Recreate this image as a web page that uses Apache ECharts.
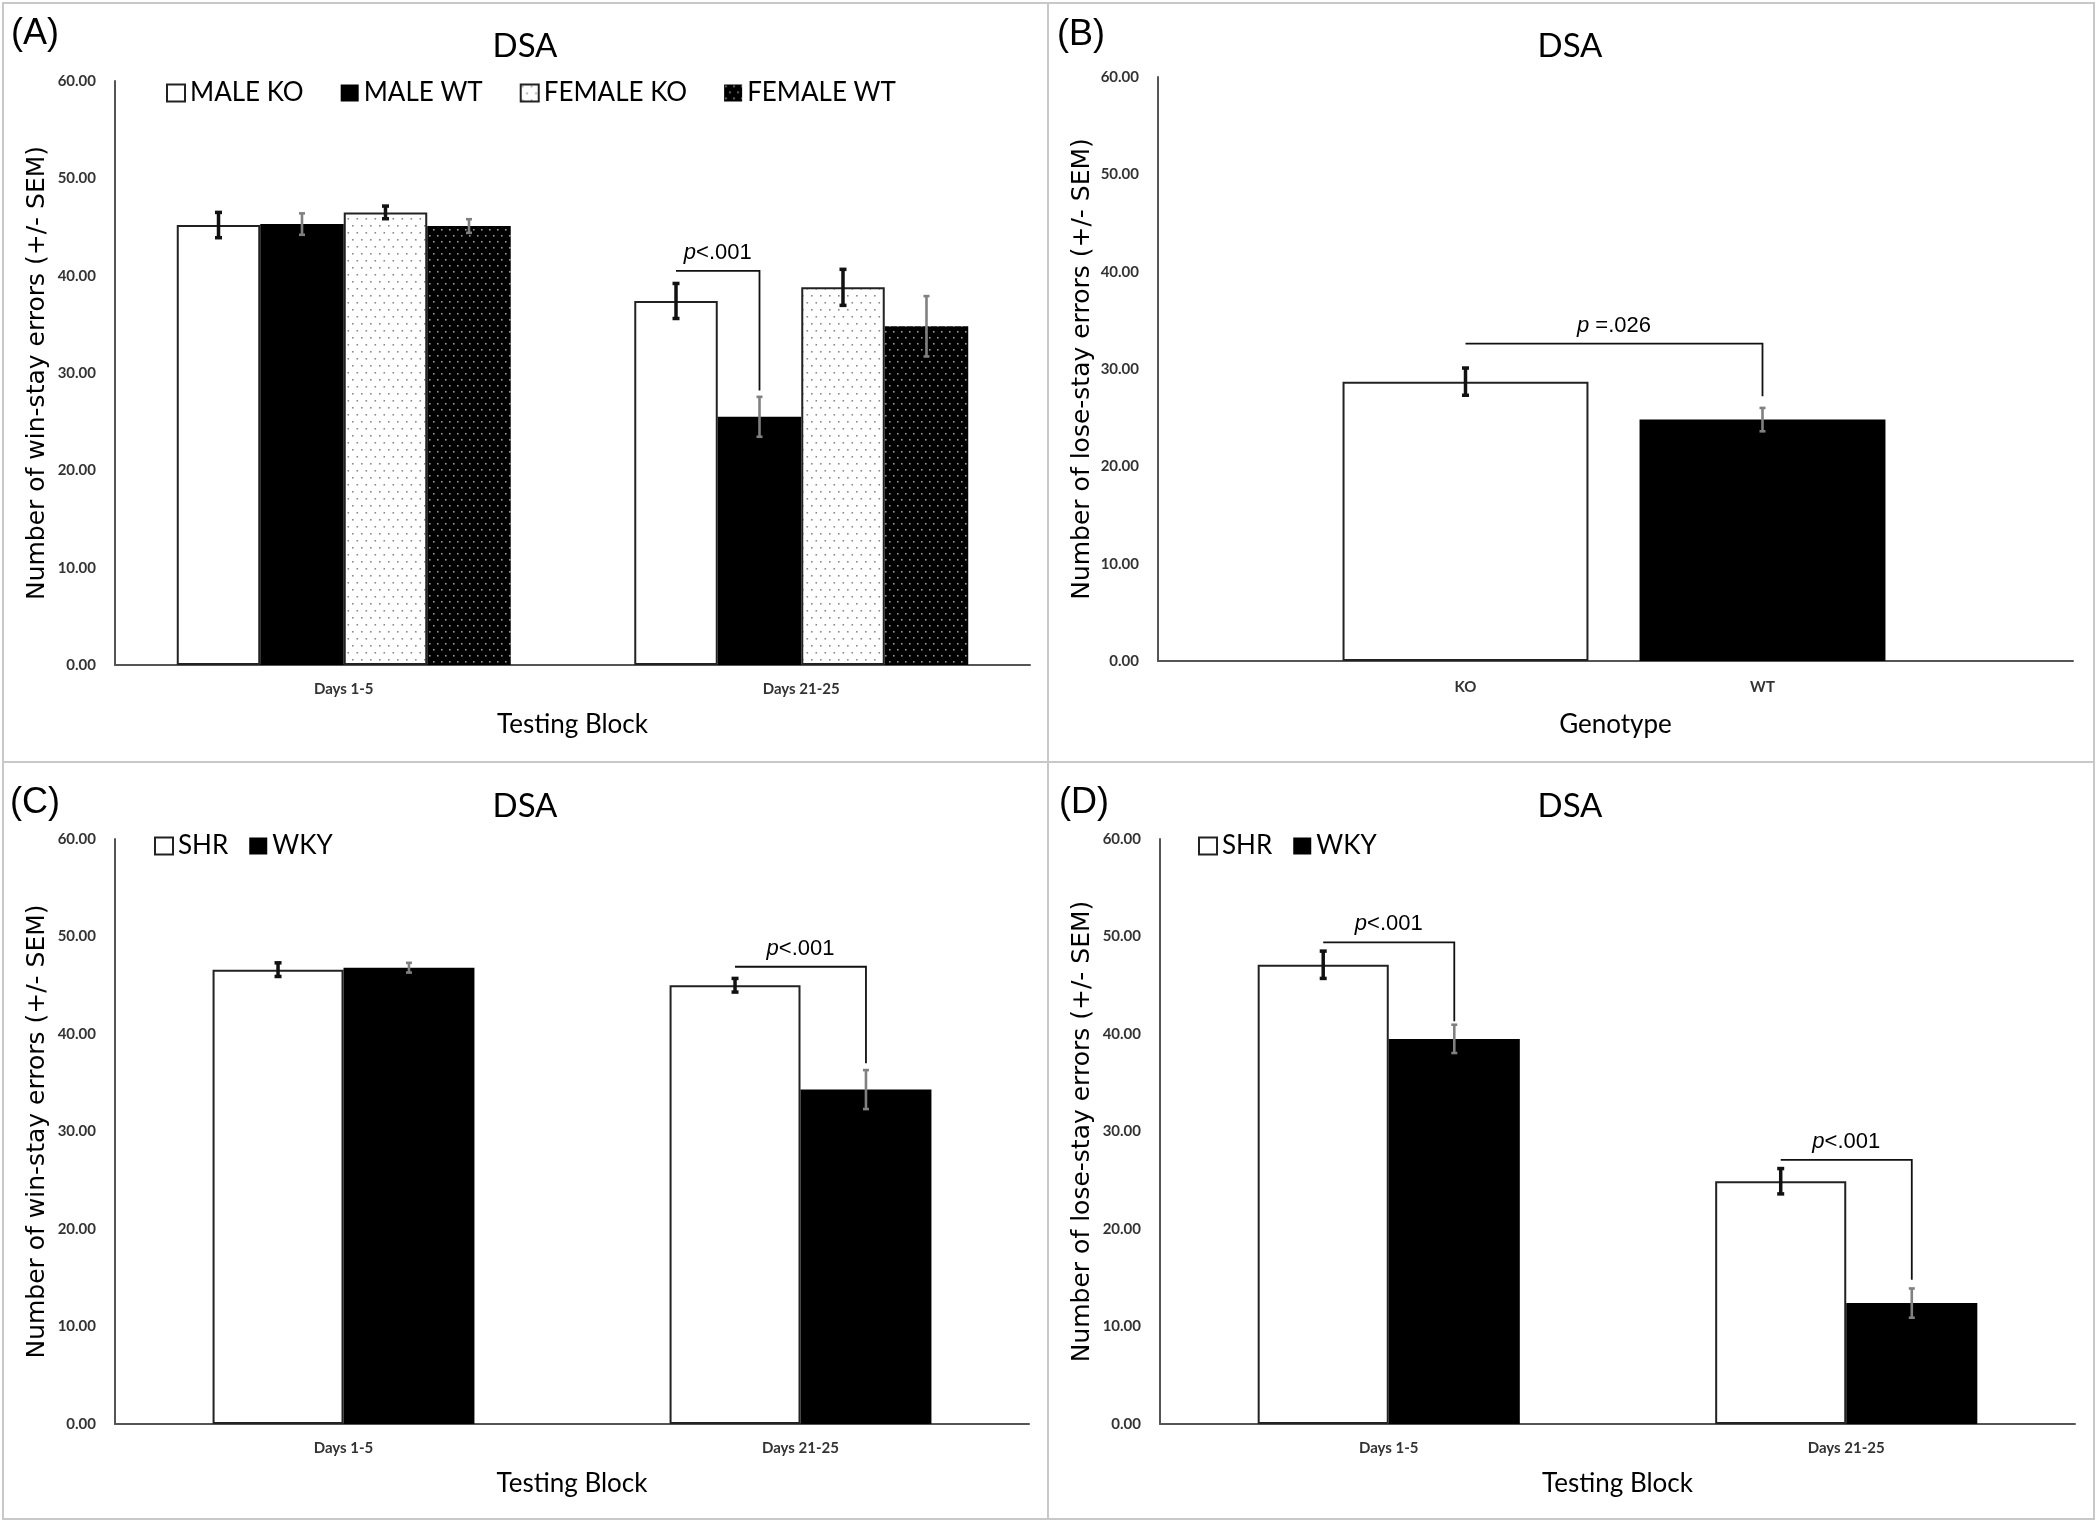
<!DOCTYPE html>
<html>
<head>
<meta charset="utf-8">
<script src="https://cdn.jsdelivr.net/npm/echarts@6/dist/echarts.min.js"></script>
<style>
html,body{margin:0;padding:0;background:#fff;}
#chart{width:2097px;height:1522px;}
</style>
</head>
<body>
<div id="chart"></div>
<script>
// ---------------- DATA ----------------
const blockCats = ['Days 1-5', 'Days 21-25'];
const genotypeCats = ['KO', 'WT'];
const yTicks = [0, 10, 20, 30, 40, 50, 60];

// Panel A (win-stay errors, sex x genotype)
const maleKO = [45.2, 37.4];
const maleKOErr = [1.3, 1.8];
const maleWT = [45.3, 25.5];
const maleWTErr = [1.1, 2.05];
const femaleKO = [46.5, 38.8];
const femaleKOErr = [0.65, 1.85];
const femaleWT = [45.1, 34.8];
const femaleWTErr = [0.7, 3.1];
const bracketA = [[1, 0, 1, 40.5, 28.2, 'p<.001']];

// Panel B (lose-stay errors by genotype)
const genotypeVals = [28.7, 24.8];
const genotypeErr = [1.4, 1.2];
const bracketB = [[0, 1, 32.6, 27.2, 'p =.026']];

// Panel C (win-stay errors, SHR vs WKY)
const shrC = [46.6, 45.0];
const shrCErr = [0.7, 0.7];
const wkyC = [46.8, 34.3];
const wkyCErr = [0.5, 2.0];
const bracketC = [[1, 0, 1, 46.9, 37.0, 'p<.001']];

// Panel D (lose-stay errors, SHR vs WKY)
const shrD = [47.1, 24.9];
const shrDErr = [1.4, 1.3];
const wkyD = [39.5, 12.4];
const wkyDErr = [1.45, 1.5];
const bracketD = [[0, 0, 1, 49.4, 41.3, 'p<.001'], [1, 0, 1, 27.1, 14.8, 'p<.001']];

// ---------------- STYLE ----------------
const LATO = 'Lato, "Open Sans", sans-serif';
const ARIAL = '"Liberation Sans", Arial, sans-serif';
const AXIS_COLOR = '#555';
const GAP_A = 0.27, GAP_CD = 0.427, GAP_B = 0.172;

function makePattern(bg, dot, w, h) {
  const c = document.createElement('canvas');
  c.width = w; c.height = h;
  const g = c.getContext('2d');
  g.fillStyle = bg; g.fillRect(0, 0, w, h);
  g.fillStyle = dot;
  g.fillRect(1, 1, 1.6, 1.6);
  g.fillRect(1 + w / 2, 1 + h / 2, 1.6, 1.6);
  return { image: c, repeat: 'repeat' };
}
const whiteStyle = { color: '#fff', borderColor: '#222', borderWidth: 2 };
const blackStyle = { color: '#000', borderColor: '#000', borderWidth: 0 };
const dotWhiteStyle = { color: makePattern('#fff', '#8a8a8a', 9, 14), borderColor: '#222', borderWidth: 2 };
const dotBlackStyle = { color: makePattern('#000', '#9a9a9a', 8, 12), borderColor: '#000', borderWidth: 0 };

const BLACK_ERR = { color: '#111', width: 3.5, cap: 3.5 };
const GRAY_ERR = { color: '#808080', width: 2.6, cap: 3 };

// ---------------- HELPERS ----------------
function barSeries(name, vals, idx, style, gap) {
  return {
    type: 'bar', name: name, data: vals,
    xAxisIndex: idx, yAxisIndex: idx,
    barGap: '0%', barCategoryGap: (gap * 100) + '%',
    itemStyle: style, emphasis: { disabled: true }, z: 2
  };
}
function errSeries(id, vals, errs, idx, barIndex, nBars, gap, st) {
  return {
    type: 'custom', name: id, xAxisIndex: idx, yAxisIndex: idx, z: 5,
    silent: true,
    data: vals.map((v, i) => [i, v, errs[i]]),
    encode: { x: 0, y: 1 },
    renderItem: function (params, api) {
      const cat = api.value(0), v = api.value(1), e = api.value(2);
      const band = api.size([1, 0])[0];
      const bw = band * (1 - gap) / nBars;
      const x = api.coord([cat, v])[0] + (barIndex - (nBars - 1) / 2) * bw;
      const yHi = api.coord([cat, v + e])[1];
      const yLo = api.coord([cat, v - e])[1];
      const ls = { stroke: st.color, lineWidth: st.width };
      return {
        type: 'group', children: [
          { type: 'line', shape: { x1: x, y1: yHi, x2: x, y2: yLo }, style: ls },
          { type: 'line', shape: { x1: x - st.cap, y1: yHi, x2: x + st.cap, y2: yHi }, style: ls },
          { type: 'line', shape: { x1: x - st.cap, y1: yLo, x2: x + st.cap, y2: yLo }, style: ls }
        ]
      };
    }
  };
}
// brackets: [cat, fromBar, toBar, yTop, yBottom, label] (for single-bar axes fromBar/toBar are categories)
function bracketSeries(id, rows, idx, nBars, gap, perCategory) {
  return {
    type: 'custom', name: id, xAxisIndex: idx, yAxisIndex: idx, z: 6, silent: true,
    data: rows.map(r => perCategory ? [r[0], r[1], r[2], r[3], r[4]] : [r[0], r[1], r[2], r[3], r[4], r[5]]),
    encode: { x: 0, y: perCategory ? 2 : 3 },
    renderItem: function (params, api) {
      let x1, x2, yT, yB, label;
      const band = api.size([1, 0])[0];
      if (perCategory) {
        const r = rows[params.dataIndex];
        x1 = api.coord([r[0], r[2]])[0];
        x2 = api.coord([r[1], r[2]])[0];
        yT = api.coord([r[0], r[2]])[1];
        yB = api.coord([r[1], r[3]])[1];
        label = r[4];
      } else {
        const r = rows[params.dataIndex];
        const bw = band * (1 - gap) / nBars;
        const cx = api.coord([r[0], r[3]])[0];
        x1 = cx + (r[1] - (nBars - 1) / 2) * bw;
        x2 = cx + (r[2] - (nBars - 1) / 2) * bw;
        yT = api.coord([r[0], r[3]])[1];
        yB = api.coord([r[0], r[4]])[1];
        label = r[5];
      }
      const rich = label.replace(/^p/, '{i|p}');
      return {
        type: 'group', children: [
          { type: 'polyline', shape: { points: [[x1, yT], [x2, yT], [x2, yB]] },
            style: { stroke: '#111', lineWidth: 1.8, fill: null } },
          { type: 'text', style: {
              x: (x1 + x2) / 2, y: yT - 7, text: rich, align: 'center', verticalAlign: 'bottom',
              fontSize: 22, fontFamily: ARIAL, fill: '#000',
              rich: { i: { fontStyle: 'italic', fontSize: 22, fontFamily: ARIAL, fill: '#000' } }
            } }
        ]
      };
    }
  };
}
function valueAxis(idx, name, show) {
  return {
    type: 'value', gridIndex: idx, min: yTicks[0], max: yTicks[yTicks.length - 1],
    interval: yTicks[1] - yTicks[0], show: show,
    name: name, nameLocation: 'middle', nameGap: 65,
    nameTextStyle: { fontFamily: '"DejaVu Sans", sans-serif', fontSize: 25, color: '#000' },
    axisLine: { show: true, lineStyle: { color: AXIS_COLOR, width: 2 } },
    axisTick: { show: false }, splitLine: { show: false },
    axisLabel: { formatter: v => v.toFixed(2), margin: 19, fontFamily: LATO, fontSize: 15,
      fontWeight: 'bold', color: '#333' }
  };
}
function catAxis(idx, cats, name, opts) {
  return Object.assign({
    type: 'category', gridIndex: idx, data: cats,
    name: name, nameLocation: 'middle', nameGap: 47,
    nameTextStyle: { fontFamily: LATO, fontSize: 26, color: '#000' },
    axisLine: { show: true, lineStyle: { color: AXIS_COLOR, width: 2 } },
    axisTick: { show: false },
    axisLabel: { margin: 17, fontFamily: LATO, fontSize: 15, fontWeight: 'bold', color: '#333' }
  }, opts || {});
}

const chart = echarts.init(document.getElementById('chart'), null, { renderer: 'canvas' });

const legendText = { fontFamily: LATO, fontSize: 26, color: '#000' };

const option = {
  backgroundColor: '#fff',
  animation: false,
  grid: [
    { left: 115, top: 81, width: 915, height: 584 },   // A
    { left: 1158, top: 77, width: 915, height: 584 },  // B frame
    { left: 1317, top: 77, width: 594, height: 584 },  // B bars
    { left: 115, top: 839, width: 914, height: 585 },  // C
    { left: 1160, top: 839, width: 915, height: 585 }  // D
  ],
  xAxis: [
    catAxis(0, blockCats, 'Testing Block'),
    catAxis(1, [''], 'Genotype', { nameGap: 51, axisLabel: { show: false } }),
    catAxis(2, genotypeCats, '', { axisLine: { show: false }, axisLabel: { margin: 19, fontFamily: LATO, fontSize: 15, fontWeight: 'bold', color: '#333' } }),
    catAxis(3, blockCats, 'Testing Block'),
    catAxis(4, blockCats, 'Testing Block')
  ],
  yAxis: [
    valueAxis(0, 'Number of win-stay errors (+/- SEM)', true),
    Object.assign(valueAxis(1, 'Number of lose-stay errors (+/- SEM)', true), { nameGap: 63 }),
    valueAxis(2, '', false),
    valueAxis(3, 'Number of win-stay errors (+/- SEM)', true),
    valueAxis(4, 'Number of lose-stay errors (+/- SEM)', true)
  ],
  legend: [
    { data: ['MALE KO', 'MALE WT', 'FEMALE KO', 'FEMALE WT'], left: 166, top: 80, padding: 0,
      itemWidth: 18, itemHeight: 17, itemGap: 37, icon: 'rect', textStyle: legendText, selectedMode: false },
    { data: ['SHR', 'WKY'], left: 154, top: 833, padding: 0,
      itemWidth: 18, itemHeight: 17, itemGap: 21, icon: 'rect', textStyle: legendText, selectedMode: false },
    { data: ['SHR', 'WKY'], left: 1198, top: 833, padding: 0,
      itemWidth: 18, itemHeight: 17, itemGap: 21, icon: 'rect', textStyle: legendText, selectedMode: false }
  ],
  series: [
    // A
    barSeries('MALE KO', maleKO, 0, whiteStyle, GAP_A),
    barSeries('MALE WT', maleWT, 0, blackStyle, GAP_A),
    barSeries('FEMALE KO', femaleKO, 0, dotWhiteStyle, GAP_A),
    barSeries('FEMALE WT', femaleWT, 0, dotBlackStyle, GAP_A),
    errSeries('errA0', maleKO, maleKOErr, 0, 0, 4, GAP_A, BLACK_ERR),
    errSeries('errA1', maleWT, maleWTErr, 0, 1, 4, GAP_A, GRAY_ERR),
    errSeries('errA2', femaleKO, femaleKOErr, 0, 2, 4, GAP_A, BLACK_ERR),
    errSeries('errA3', femaleWT, femaleWTErr, 0, 3, 4, GAP_A, GRAY_ERR),
    bracketSeries('brA', bracketA, 0, 4, GAP_A, false),
    // B
    {
      type: 'bar', name: 'Genotype', xAxisIndex: 2, yAxisIndex: 2, barCategoryGap: (GAP_B * 100) + '%',
      emphasis: { disabled: true },
      data: genotypeVals.map((v, i) => ({ value: v, itemStyle: i === 0 ? whiteStyle : blackStyle }))
    },
    {
      type: 'custom', name: 'errB', xAxisIndex: 2, yAxisIndex: 2, z: 5, silent: true,
      data: genotypeVals.map((v, i) => [i, v, genotypeErr[i]]),
      encode: { x: 0, y: 1 },
      renderItem: function (params, api) {
        const st = params.dataIndex === 0 ? BLACK_ERR : GRAY_ERR;
        const cat = api.value(0), v = api.value(1), e = api.value(2);
        const x = api.coord([cat, v])[0];
        const yHi = api.coord([cat, v + e])[1], yLo = api.coord([cat, v - e])[1];
        const ls = { stroke: st.color, lineWidth: st.width };
        return { type: 'group', children: [
          { type: 'line', shape: { x1: x, y1: yHi, x2: x, y2: yLo }, style: ls },
          { type: 'line', shape: { x1: x - st.cap, y1: yHi, x2: x + st.cap, y2: yHi }, style: ls },
          { type: 'line', shape: { x1: x - st.cap, y1: yLo, x2: x + st.cap, y2: yLo }, style: ls }
        ] };
      }
    },
    bracketSeries('brB', bracketB, 2, 1, GAP_B, true),
    // C
    barSeries('SHR', shrC, 3, whiteStyle, GAP_CD),
    barSeries('WKY', wkyC, 3, blackStyle, GAP_CD),
    errSeries('errC0', shrC, shrCErr, 3, 0, 2, GAP_CD, BLACK_ERR),
    errSeries('errC1', wkyC, wkyCErr, 3, 1, 2, GAP_CD, GRAY_ERR),
    bracketSeries('brC', bracketC, 3, 2, GAP_CD, false),
    // D
    barSeries('SHR', shrD, 4, whiteStyle, GAP_CD),
    barSeries('WKY', wkyD, 4, blackStyle, GAP_CD),
    errSeries('errD0', shrD, shrDErr, 4, 0, 2, GAP_CD, BLACK_ERR),
    errSeries('errD1', wkyD, wkyDErr, 4, 1, 2, GAP_CD, GRAY_ERR),
    bracketSeries('brD', bracketD, 4, 2, GAP_CD, false)
  ],
  graphic: [
    // panel frame
    { type: 'rect', shape: { x: 3, y: 3, width: 2091, height: 1516 }, style: { fill: null, stroke: '#c8c8c8', lineWidth: 2 }, silent: true },
    { type: 'line', shape: { x1: 1048, y1: 3, x2: 1048, y2: 1519 }, style: { stroke: '#c8c8c8', lineWidth: 2 }, silent: true },
    { type: 'line', shape: { x1: 3, y1: 762, x2: 2094, y2: 762 }, style: { stroke: '#c8c8c8', lineWidth: 2 }, silent: true },
    // panel letters
    { type: 'text', style: { x: 11, y: 34, text: '(A)', fontSize: 36, fontFamily: ARIAL, fill: '#000', verticalAlign: 'middle' } },
    { type: 'text', style: { x: 1057, y: 35, text: '(B)', fontSize: 36, fontFamily: ARIAL, fill: '#000', verticalAlign: 'middle' } },
    { type: 'text', style: { x: 10, y: 803, text: '(C)', fontSize: 36, fontFamily: ARIAL, fill: '#000', verticalAlign: 'middle' } },
    { type: 'text', style: { x: 1059, y: 803, text: '(D)', fontSize: 36, fontFamily: ARIAL, fill: '#000', verticalAlign: 'middle' } },
    // titles
    { type: 'text', style: { x: 525, y: 46, text: 'DSA', fontSize: 33, fontFamily: LATO, fill: '#000', align: 'center', verticalAlign: 'middle' } },
    { type: 'text', style: { x: 1570, y: 46, text: 'DSA', fontSize: 33, fontFamily: LATO, fill: '#000', align: 'center', verticalAlign: 'middle' } },
    { type: 'text', style: { x: 525, y: 806, text: 'DSA', fontSize: 33, fontFamily: LATO, fill: '#000', align: 'center', verticalAlign: 'middle' } },
    { type: 'text', style: { x: 1570, y: 806, text: 'DSA', fontSize: 33, fontFamily: LATO, fill: '#000', align: 'center', verticalAlign: 'middle' } }
  ]
};
chart.setOption(option);
</script>
</body>
</html>
